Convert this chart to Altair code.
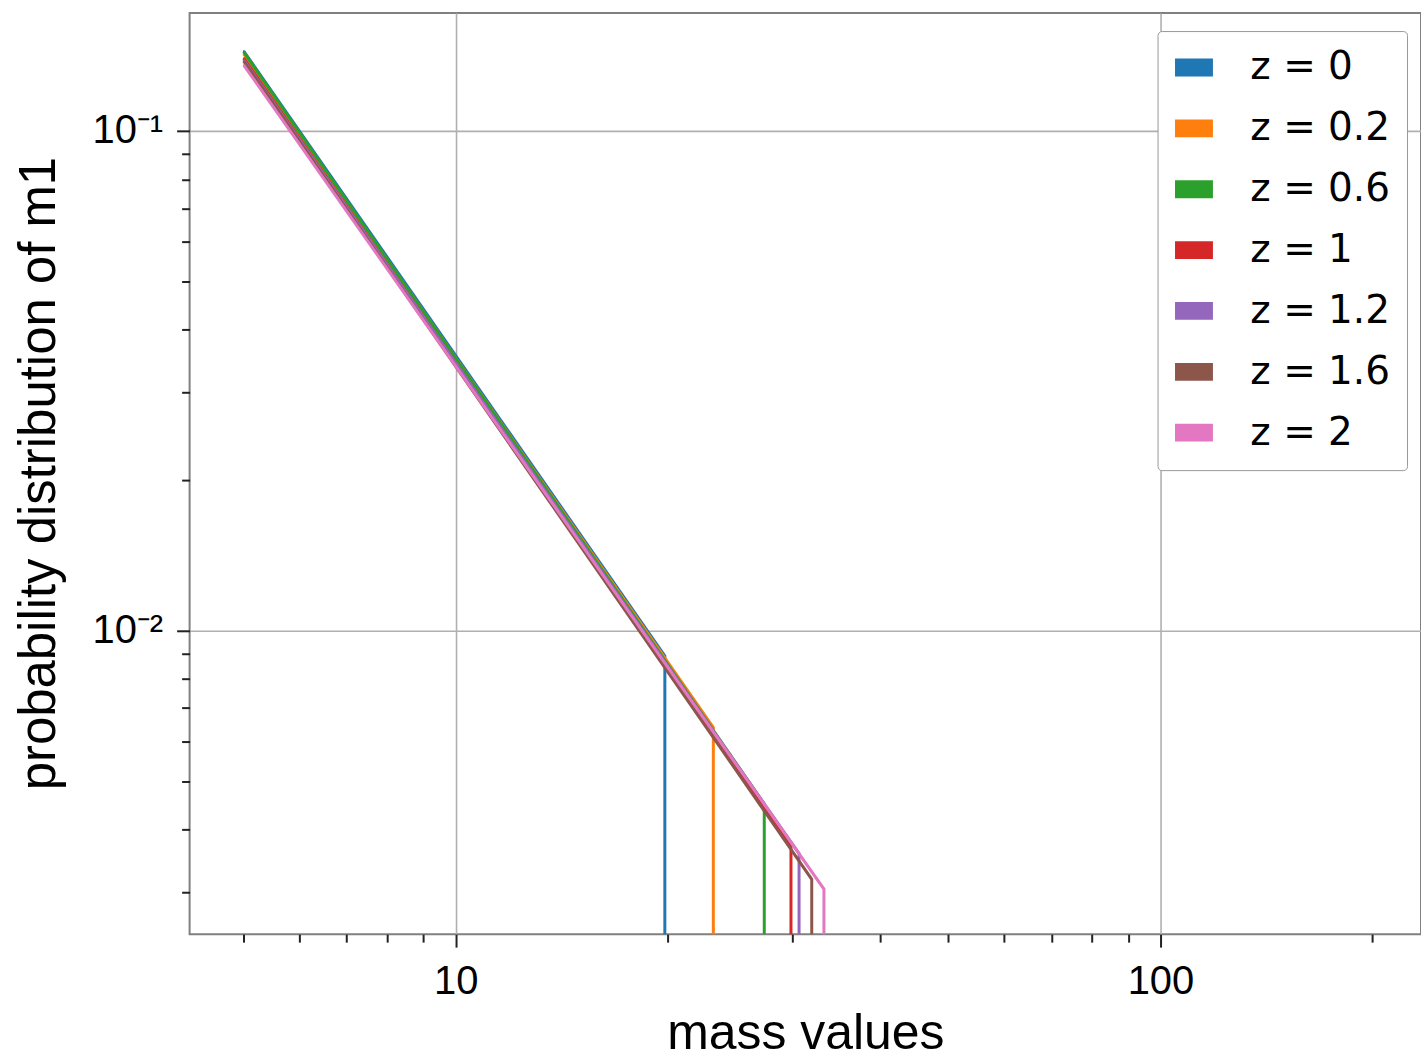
import altair as alt
import pandas as pd

# ---- data ----
labels = ["z = 0", "z = 0.2", "z = 0.6", "z = 1", "z = 1.2", "z = 1.6", "z = 2"]
colors = ["#1f77b4", "#ff7f0e", "#2ca02c", "#d62728", "#9467bd", "#8c564b", "#e377c2"]
m_start = [5.0, 5.0, 5.0, 5.0, 5.0, 5.0, 5.0]
p_start = [0.1444, 0.1425, 0.1438, 0.1398, 0.1386, 0.1379, 0.1354]
m_end = [19.8, 23.2, 27.4, 29.9, 30.7, 32.0, 33.3]
p_end = [0.0089, 0.0064, 0.0045, 0.00372, 0.00358, 0.00318, 0.00304]
p_zero = 0.001  # stands for 0 (drops below the log axis)

x_major = [10, 100]
x_major_labels = ["10", "100"]
x_minor = [5, 6, 7, 8, 9, 20, 30, 40, 50, 60, 70, 80, 90, 200]
y_major = [0.01, 0.1]
y_major_labels = ["10\u207b\u00b2", "10\u207b\u00b9"]
y_minor = [0.003, 0.004, 0.005, 0.006, 0.007, 0.008, 0.009,
           0.02, 0.03, 0.04, 0.05, 0.06, 0.07, 0.08, 0.09]

rows = []
for i, lab in enumerate(labels):
    rows.append({"series": lab, "idx": 0, "m": m_start[i], "p": p_start[i]})
    rows.append({"series": lab, "idx": 1, "m": m_end[i], "p": p_end[i]})
    rows.append({"series": lab, "idx": 2, "m": m_end[i], "p": p_zero})
df = pd.DataFrame(rows)


def label_expr(vals, labs):
    expr = "''"
    for v, l in zip(vals, labs):
        expr = f"abs(datum.value - {v}) < {v}*1e-6 ? '{l}' : " + expr
    return expr


def major_test(vals):
    return " || ".join(f"abs(datum.value - {v}) < {v}*1e-6" for v in vals)


font = "Liberation Sans"

x_axis = alt.Axis(
    values=sorted(x_major + x_minor),
    labelExpr=label_expr(x_major, x_major_labels),
    labelOverlap=False,
    labelFont=font, labelFontSize=40, labelColor="#000", labelPadding=14,
    tickColor="#222", tickWidth=2,
    tickSize={"condition": {"test": major_test(x_major), "value": 13}, "value": 8},
    grid=True, gridColor="#b0b0b0", gridWidth=1.6,
    gridOpacity={"condition": {"test": major_test(x_major), "value": 1}, "value": 0},
    domain=False,
    title="mass values", titleFont=font, titleFontSize=50, titleFontWeight="normal",
    titleColor="#000", titleY=115, titleBaseline="alphabetic",
)

y_axis = alt.Axis(
    values=sorted(y_major + y_minor),
    labelExpr=label_expr(y_major, y_major_labels),
    labelOverlap=False,
    labelFont=font, labelFontSize=40, labelColor="#000", labelPadding=14,
    tickColor="#222", tickWidth=2,
    tickSize={"condition": {"test": major_test(y_major), "value": 13}, "value": 8},
    grid=True, gridColor="#b0b0b0", gridWidth=1.6,
    gridOpacity={"condition": {"test": major_test(y_major), "value": 1}, "value": 0},
    domain=False,
    title="probability distribution of m1", titleFont=font, titleFontSize=51,
    titleFontWeight="normal", titleColor="#000",
    titleX=-135, titleY=461, titleBaseline="alphabetic", titleAngle=-90,
)

legend = alt.Legend(
    title=None, orient="none", legendX=970, legendY=18,
    symbolType="M-1,-0.47H1V0.47H-1Z", symbolSize=1444, symbolStrokeWidth=0,
    symbolOpacity=1,
    labelFont="DejaVu Sans", labelFontSize=39, labelColor="#000", labelOffset=37,
    rowPadding=21, padding=17, strokeColor="#999999", fillColor="white",
    cornerRadius=4,
)

xs = alt.Scale(type="log", domain=[4.19, 234.3], nice=False)
ys = alt.Scale(type="log", domain=[0.00247, 0.172], nice=False)
cs = alt.Scale(domain=labels, range=colors)

base = alt.Chart(df)

# hidden filled points (under the line starts) that give the legend filled patches
patches = base.transform_filter("datum.idx == 0").mark_point(
    filled=True, size=2, shape="square", opacity=1, clip=True
).encode(
    x=alt.X("m:Q", scale=xs, axis=x_axis),
    y=alt.Y("p:Q", scale=ys, axis=y_axis),
    color=alt.Color("series:N", scale=cs, legend=legend),
)

lines = base.mark_line(strokeWidth=3, clip=True).encode(
    x=alt.X("m:Q", scale=xs, axis=x_axis),
    y=alt.Y("p:Q", scale=ys, axis=y_axis),
    color=alt.Color("series:N", scale=cs, legend=legend),
    order=alt.Order("idx:Q"),
)

chart = alt.layer(patches, lines).properties(
    width=1234, height=923,
    autosize=alt.AutoSizeParams(type="none"),
    padding={"left": 190, "top": 12, "right": 0, "bottom": 124},
    background="white",
).configure_view(stroke="#808080", strokeWidth=2)

chart.save("out.html", embed_options={"renderer": "svg", "actions": False})
